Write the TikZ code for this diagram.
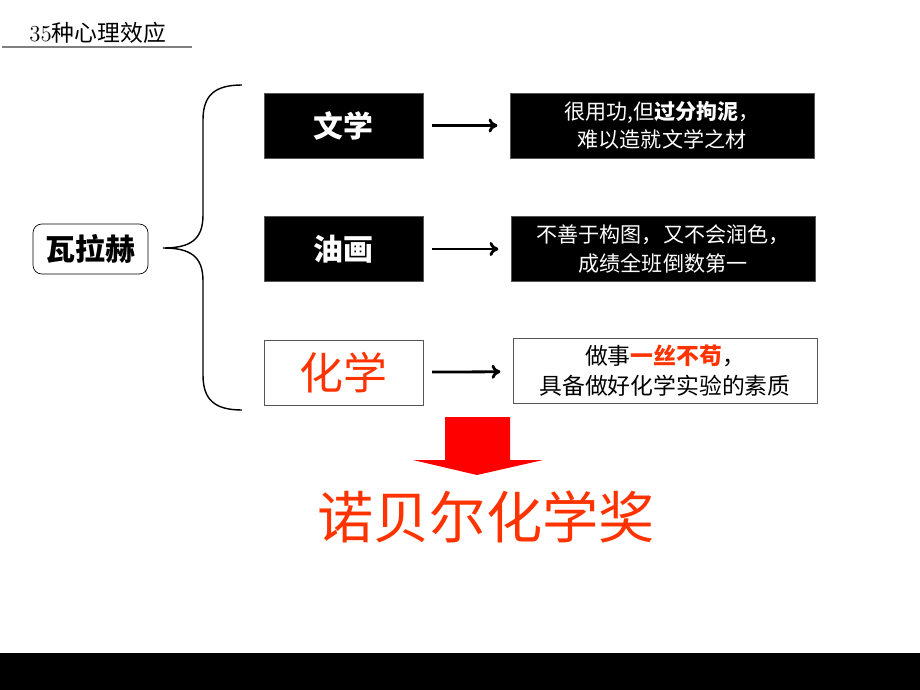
\documentclass[tikz,border=0pt]{standalone}
\usepackage{fontspec}
\usepackage{xcolor}
\newfontfamily\cjk{Noto Sans CJK SC}
\definecolor{hongse}{RGB}{255,51,0}
\definecolor{biankuang}{RGB}{85,85,85}
\usetikzlibrary{calc, arrows.meta}

\begin{document}
\begin{tikzpicture}[x=0.02cm, y=-0.02cm,
		keybox/.style={draw=biankuang, fill=black, text=white, minimum width=3.18cm, minimum height=1.3cm, inner sep=0pt, font=\cjk\bfseries\fontsize{17}{20}\selectfont},
		txtbox/.style={draw=biankuang, fill=black, text=white, minimum width=6.08cm, minimum height=1.3cm, inner sep=0pt, align=center, font=\cjk\fontsize{12}{16}\selectfont},
		arr/.style={-{To[length=5pt, width=8pt]}, line width=1.6pt, shorten <=5pt, shorten >=7pt}]
			\def\W{920};
			\def\H{690};

			\useasboundingbox (0,0) rectangle (\W,\H);

			\begin{scope}
				\node[anchor=west, inner sep=0pt] (title) at (29,33) {\fontsize{13}{15}\selectfont 35\cjk 种心理效应};
				\draw[gray, line width=1.2pt] (2,47) -- (192,47);
			\end{scope}

			\begin{scope}
				\node[draw=black, rounded corners=5pt, minimum width=2.3cm, minimum height=1cm, inner sep=0pt, font=\cjk\bfseries\fontsize{17}{20}\selectfont] (walahe) at (90.5,249) {瓦拉赫};
				\coordinate (tip) at (163,248);
				\draw[line width=0.8pt] (242,85) .. controls (215,85) and (203,95) .. (203,120) -- (203,215)
					.. controls (203,240) and (190,248) .. (tip)
					.. controls (190,248) and (203,256) .. (203,281) -- (203,375)
					.. controls (203,400) and (215,410) .. (242,410);
			\end{scope}

			\begin{scope}
				\node[keybox] (wx) at (343.5,125.5) {文学};
				\node[keybox] (yh) at (343.5,249) {油画};
				\node[keybox, fill=white, text=hongse, font=\cjk\fontsize{25}{28}\selectfont] (hx) at (343.5,372.5) {化学};

				\node[txtbox] (wxt) at (662,125.5) {很用功,但\textbf{过分拘泥}，\\难以造就文学之材};
				\node[txtbox] (yht) at (663,249) {不善于构图，又不会润色，\\成绩全班倒数第一};
				\node[txtbox, fill=white, text=black, font=\cjk\fontsize{13}{17}\selectfont] (hxt) at (665,371) {做事\textcolor{hongse}{\bfseries 一丝不苟}，\\具备做好化学实验的素质};

				\foreach \n in {wx,yh,hx}
				{
					\draw[arr] (\n) -- (\n t);
				}
			\end{scope}

			\begin{scope}
				\fill[red] (445,417) -- (510,417) -- (510,460) -- (543,460) -- (477,475) -- (413,460) -- (445,460) -- cycle;
				\node[text=hongse, font=\cjk\fontsize{32}{36}\selectfont] (nobel) at (486,517) {诺贝尔化学奖};
			\end{scope}

			\fill[black] (0,653) rectangle (\W,\H);
		\end{tikzpicture}
\end{document}
